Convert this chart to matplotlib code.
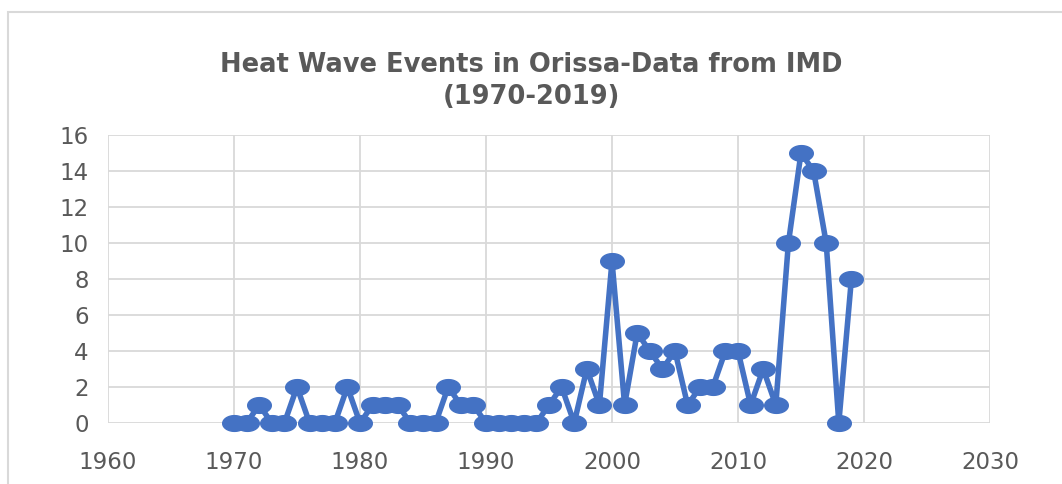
import numpy as np
import matplotlib
matplotlib.use("Agg")
import matplotlib.pyplot as plt
from matplotlib.path import Path
from matplotlib.patches import Rectangle

# heat wave events per year
years = list(range(1970, 2020))
events = [0, 0, 1, 0, 0, 2, 0, 0, 0, 2,
          0, 1, 1, 1, 0, 0, 0, 2, 1, 1,
          0, 0, 0, 0, 0, 1, 2, 0, 3, 1,
          9, 1, 5, 4, 3, 4, 1, 2, 2, 4,
          4, 1, 3, 1, 10, 15, 14, 10, 0, 8]
x_ticks = [1960, 1970, 1980, 1990, 2000, 2010, 2020, 2030]
y_ticks = [0, 2, 4, 6, 8, 10, 12, 14, 16]

line_color = "#4472C4"
text_color = "#595959"
grid_color = "#d9d9d9"

plt.rcParams['font.family'] = ['DejaVu Sans']

# wide ellipse marker like the Excel one
t = np.linspace(0, 2 * np.pi, 60)
ellipse = Path(np.column_stack([1.5 * np.cos(t), np.sin(t)]), closed=True)

fig = plt.figure(figsize=(10.62, 4.84), dpi=100)
fig.patches.append(Rectangle((8 / 1062, -0.1), 1.1, 1 - 12 / 484 + 0.1,
                             transform=fig.transFigure, fill=False,
                             edgecolor="#d9d9d9", linewidth=1.5))

ax = fig.add_axes([108 / 1062, 61 / 484, 882 / 1062, 288 / 484])
ax.plot(years, events, color=line_color, linewidth=4, marker=ellipse,
        markersize=17, markerfacecolor=line_color, markeredgecolor=line_color,
        clip_on=False, zorder=3)

ax.set_xlim(1960, 2030)
ax.set_ylim(0, 16)
ax.set_xticks(x_ticks)
ax.set_yticks(y_ticks)
ax.grid(True, color=grid_color, linewidth=1.3)
ax.set_axisbelow(True)
for s in ax.spines.values():
    s.set_visible(False)
ax.tick_params(length=0, labelsize=16.5, labelcolor=text_color)
ax.tick_params(axis='x', pad=20)
ax.tick_params(axis='y', pad=14)

fig.text(0.5, 1 - 65 / 484, "Heat Wave Events in Orissa-Data from IMD",
         ha="center", va="center", fontsize=18.5, fontweight="bold", color=text_color)
fig.text(0.5, 1 - 97 / 484, "(1970-2019)",
         ha="center", va="center", fontsize=18.5, fontweight="bold", color=text_color)

fig.savefig("out.png", dpi=100, facecolor="white")
